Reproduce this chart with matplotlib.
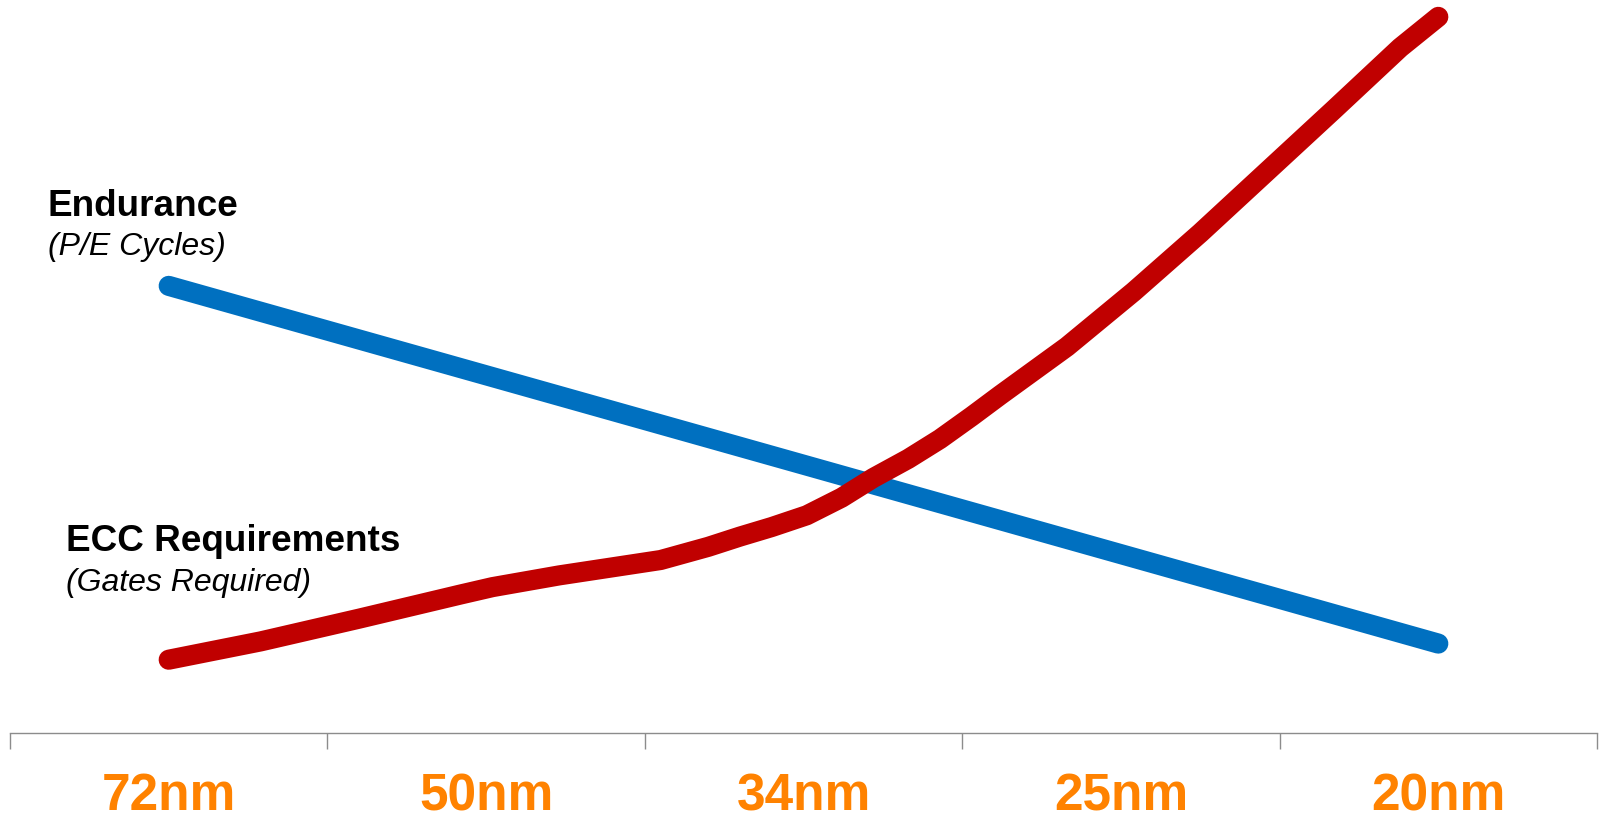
import matplotlib
matplotlib.use("Agg")
import matplotlib.pyplot as plt
from matplotlib.transforms import blended_transform_factory

plt.rcParams['font.family'] = ['Liberation Sans', 'DejaVu Sans']

# process nodes along the bottom axis
nodes = ["72nm", "50nm", "34nm", "25nm", "20nm"]
node_pos = [0.5, 1.5, 2.5, 3.5, 4.5]

# endurance (P/E cycles), relative scale 0-100
endurance = [61.0, 48.8, 36.6, 24.4, 12.2]

# ECC requirement curve at several points
ecc_x = [0.50, 0.79, 1.10, 1.42, 1.52, 1.73, 2.05, 2.20, 2.30, 2.40,
         2.51, 2.62, 2.72, 2.83, 2.93, 3.03, 3.12, 3.33, 3.54, 3.75,
         3.96, 4.17, 4.38, 4.50]
ecc_y = [10.0, 12.5, 15.6, 18.9, 19.9, 21.5, 23.6, 25.4, 26.8, 28.1,
         29.7, 32.1, 34.8, 37.4, 40.1, 43.2, 46.1, 52.7, 60.2, 68.2,
         76.6, 85.0, 93.5, 97.7]

blue = "#0070C0"
red = "#C00000"
orange = "#FF8200"
grey = "#8C8C8C"

W, H = 1599, 821
fig = plt.figure(figsize=(W / 100, H / 100), dpi=100)
ax = fig.add_axes([10 / W, (H - 733) / H, (1597 - 10) / W, 733 / H])

ax.plot(node_pos, endurance, color=blue, lw=14.5, solid_capstyle='round',
        solid_joinstyle='round')
ax.plot(ecc_x, ecc_y, color=red, lw=14.5, solid_capstyle='round',
        solid_joinstyle='round')

ax.set_xlim(0, 5)
ax.set_ylim(0, 100)
for s in ['top', 'right', 'left']:
    ax.spines[s].set_visible(False)
ax.spines['bottom'].set_color(grey)
ax.spines['bottom'].set_linewidth(1.0)
ax.set_yticks([])
ax.set_xticks(range(6))
ax.set_xticklabels([])
ax.tick_params(axis='x', direction='out', length=11.5, width=1.0, color=grey)

# category labels under the axis
tr = blended_transform_factory(ax.transData, fig.transFigure)
for p, lab in zip(node_pos, nodes):
    ax.text(p, (H - 810) / H, lab, transform=tr, ha='center', va='baseline',
            fontsize=37, fontweight='bold', color=orange)

# series names
fig.text(48 / W, 1 - 215.7 / H, "Endurance", fontsize=26.6, fontweight='bold',
         va='baseline', ha='left')
fig.text(48 / W, 1 - 255 / H, "(P/E Cycles)", fontsize=23, style='italic',
         va='baseline', ha='left')
fig.text(66 / W, 1 - 550.7 / H, "ECC Requirements", fontsize=26.6,
         fontweight='bold', va='baseline', ha='left')
fig.text(66 / W, 1 - 590.7 / H, "(Gates Required)", fontsize=23, style='italic',
         va='baseline', ha='left')

fig.savefig("out.png", dpi=100, facecolor='white')
plt.close(fig)
